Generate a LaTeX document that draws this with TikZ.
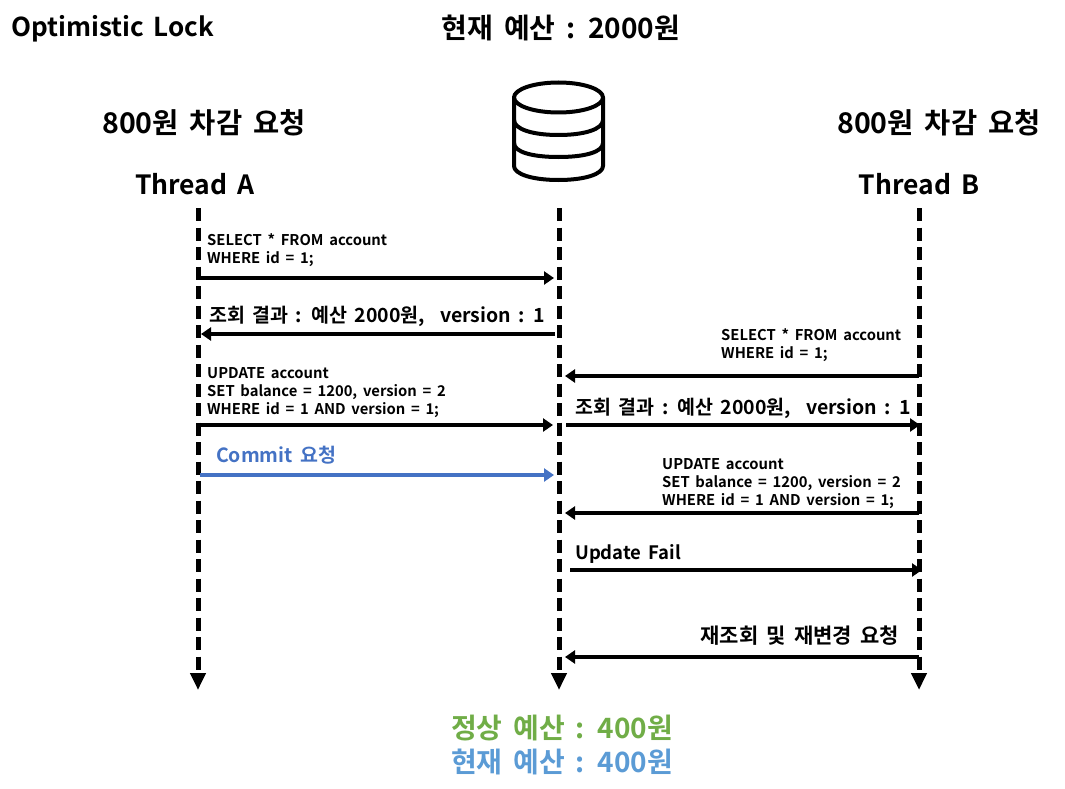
\documentclass[tikz,border=0pt]{standalone}
\usepackage{fontspec}
\setmainfont{Noto Sans CJK KR}[BoldFont={Noto Sans CJK KR Bold},WordSpace=1.7]
\usetikzlibrary{arrows.meta}
\definecolor{cblue}{HTML}{4472C4}
\definecolor{cgreen}{HTML}{70AD47}
\definecolor{lblue}{HTML}{5B9BD5}
\tikzset{
  x=1pt,y=-1pt,
  life/.style={line width=5pt,dash pattern=on 13pt off 6.5pt,-{Triangle[length=17pt,width=15pt,sep=0pt]}},
  msg/.style={line width=3.5pt,-{Triangle[length=10pt,width=13pt]}},
  txt/.style={inner sep=0pt,anchor=west,font=\bfseries},
  big/.style={txt,font=\bfseries\fontsize{28}{28}\selectfont},
  mid/.style={txt,font=\bfseries\fontsize{19.5}{19.5}\selectfont},
  small/.style={txt,align=left,anchor=south west,font=\bfseries\fontsize{14.8}{18}\selectfont},
}
\begin{document}
\begin{tikzpicture}
\useasboundingbox (0,0) rectangle (1065,789);
\node[big,font=\bfseries\fontsize{26}{26}\selectfont] (title) at (11,29) {Optimistic Lock};
\node[big,anchor=center] (cur) at (561,28) {현재 예산 : 2000원};
\node[big,anchor=center,font=\bfseries\fontsize{28.5}{28}\selectfont] (reqa) at (204,123) {800원 차감 요청};
\node[big,anchor=center,font=\bfseries\fontsize{28.5}{28}\selectfont] (reqb) at (939,123) {800원 차감 요청};
\node[big,anchor=center,font=\bfseries\fontsize{26.5}{27}\selectfont] (ta) at (195,184) {Thread A};
\node[big,anchor=center,font=\bfseries\fontsize{26.5}{27}\selectfont] (tb) at (919,184) {Thread B};
% database
\begin{scope}[line width=4pt,line cap=round,line join=round]
\draw (558.5,97.5) ellipse [x radius=44.5,y radius=15];
\draw (514,97.5) -- (514,166) .. controls (514,174) and (532,180) .. (558.5,180) .. controls (585,180) and (603,174) .. (603,166) -- (603,97.5);
\draw (514,120) .. controls (514,129) and (532,135) .. (558.5,135) .. controls (585,135) and (603,129) .. (603,120);
\draw (514,143) .. controls (514,152) and (532,157) .. (558.5,157) .. controls (585,157) and (603,152) .. (603,143);
\end{scope}
% lifelines
\coordinate (a0) at (198,208); \coordinate (a1) at (198,690);
\coordinate (d0) at (559,208); \coordinate (d1) at (559,690);
\coordinate (b0) at (919,208); \coordinate (b1) at (919,690);
\draw[life] (a0) -- (a1);
\draw[life] (d0) -- (d1);
\draw[life] (b0) -- (b1);
% message end points
\coordinate (m1s) at (198,278); \coordinate (m1e) at (554,278);
\coordinate (m2s) at (555,334); \coordinate (m2e) at (201,334);
\coordinate (m3s) at (919,376); \coordinate (m3e) at (565,376);
\coordinate (m4s) at (200,425); \coordinate (m4e) at (553,425);
\coordinate (m5s) at (566,425); \coordinate (m5e) at (920,425);
\coordinate (m6s) at (200,475); \coordinate (m6e) at (554,475);
\coordinate (m7s) at (919,513); \coordinate (m7e) at (565,513);
\coordinate (m8s) at (570,570); \coordinate (m8e) at (922,570);
\coordinate (m9s) at (919,657); \coordinate (m9e) at (565,657);
\draw[msg] (m1s) -- (m1e);
\draw[msg] (m2s) -- (m2e);
\draw[msg] (m3s) -- (m3e);
\draw[msg] (m4s) -- (m4e);
\draw[msg] (m5s) -- (m5e);
\draw[msg,cblue] (m6s) -- (m6e);
\draw[msg] (m7s) -- (m7e);
\draw[msg] (m8s) -- (m8e);
\draw[msg] (m9s) -- (m9e);
% labels
\node[small] (l1) at (207,267) {SELECT * FROM account\\WHERE id = 1;};
\node[mid] (l2) at (209,316) {조회 결과 : 예산 2000원,\ \ version : 1};
\node[small] (l3) at (721,362) {SELECT * FROM account\\WHERE id = 1;};
\node[small] (l4) at (207,418) {UPDATE account\\SET balance = 1200, version = 2\\WHERE id = 1 AND version = 1;};
\node[mid] (l5) at (575,408) {조회 결과 : 예산 2000원,\ \ version : 1};
\node[mid,text=cblue,font=\bfseries\fontsize{19.5}{20}\selectfont] (l6) at (216,455) {Commit 요청};
\node[small] (l7) at (662,509) {UPDATE account\\SET balance = 1200, version = 2\\WHERE id = 1 AND version = 1;};
\node[mid,font=\bfseries\fontsize{18.5}{19}\selectfont] (l8) at (575,554) {Update Fail};
\node[mid,anchor=east,font=\bfseries\fontsize{21}{21}\selectfont] (l9) at (899,636) {재조회 및 재변경 요청};
\node[big,anchor=center,text=cgreen] (ok) at (562,728) {정상 예산 : 400원};
\node[big,anchor=center,text=lblue] (now) at (562,762) {현재 예산 : 400원};
\end{tikzpicture}
\end{document}
